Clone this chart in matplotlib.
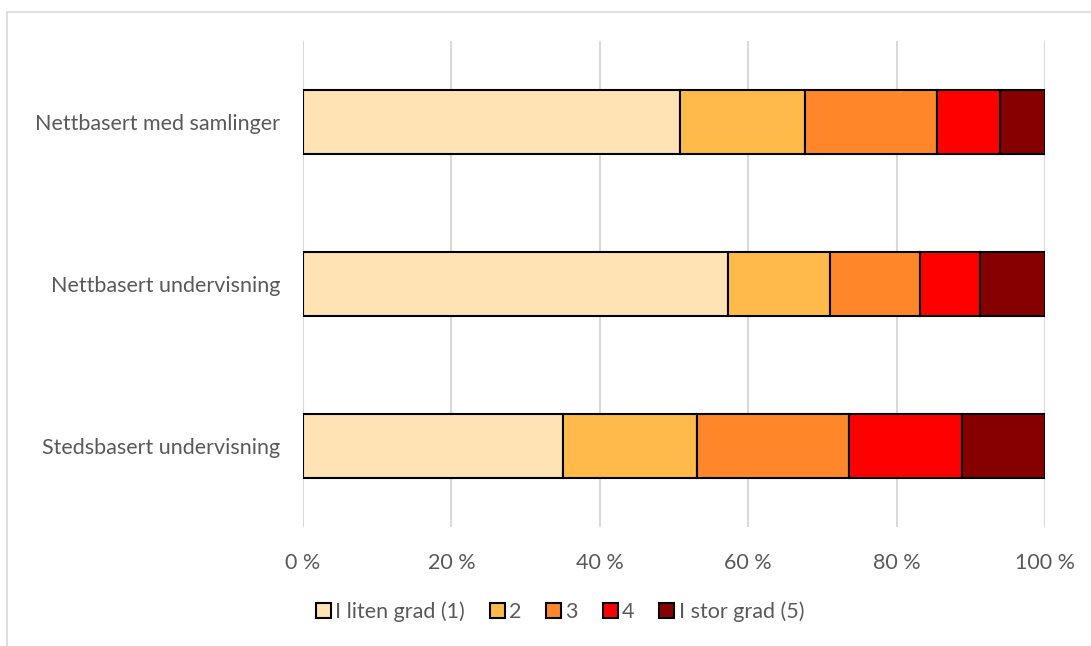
import numpy as np
import matplotlib.pyplot as plt
from matplotlib.patches import Rectangle

# Data (share in %, each row sums to 100)
categories = ['Stedsbasert undervisning', 'Nettbasert undervisning', 'Nettbasert med samlinger']
series = ['I liten grad (1)', '2', '3', '4', 'I stor grad (5)']
values = [
    [35.0, 57.3, 50.8],   # I liten grad (1)
    [18.1, 13.7, 16.9],   # 2
    [20.5, 12.1, 17.8],   # 3
    [15.2, 8.2, 8.5],     # 4
    [11.2, 8.7, 6.0],     # I stor grad (5)
]
colors = ['#FFE3B4', '#FFBA4A', '#FF8629', '#FF0000', '#870000']
xticks = [0, 20, 40, 60, 80, 100]

plt.rcParams['font.family'] = ['Lato', 'DejaVu Sans']
text_color = '#595959'
fs = 15.5

fig = plt.figure(figsize=(10.91, 6.46), dpi=100)
ax = fig.add_axes([303 / 1091, 1 - 527 / 646, (1045 - 303) / 1091, (527 - 41) / 646])

y = np.arange(len(categories))
left = np.zeros(len(categories))
for name, vals, col in zip(series, values, colors):
    vals = np.array(vals)
    ax.barh(y, vals, left=left, height=0.4, color=col, edgecolor='black',
            linewidth=1.5, label=name, zorder=3)
    left += vals

ax.set_xlim(0, 100)
ax.set_ylim(-0.5, 2.5)
ax.set_xticks(xticks)
ax.set_xticklabels(['%d %%' % t for t in xticks])
ax.set_yticks(y)
ax.set_yticklabels(categories)
ax.tick_params(axis='both', length=0, labelsize=fs, colors=text_color)
ax.tick_params(axis='x', pad=19)
ax.tick_params(axis='y', pad=16.5)
ax.grid(axis='x', color='#d9d9d9', linewidth=1.5, zorder=0)
for s in ax.spines.values():
    s.set_visible(False)

leg = ax.legend(loc='center', bbox_to_anchor=((560 - 303) / 742, -0.175),
                ncol=5, frameon=False, fontsize=fs, handlelength=0.7, handleheight=0.7,
                handletextpad=0.2, columnspacing=1.15)
for t in leg.get_texts():
    t.set_color(text_color)

# light chart-area frame
fig.patches.append(Rectangle((7 / 1091, -0.1), 1.2, 1.1 - 12 / 646, transform=fig.transFigure,
                             fill=False, edgecolor='#d9d9d9', linewidth=1.2))

fig.savefig('out.png', dpi=100)
